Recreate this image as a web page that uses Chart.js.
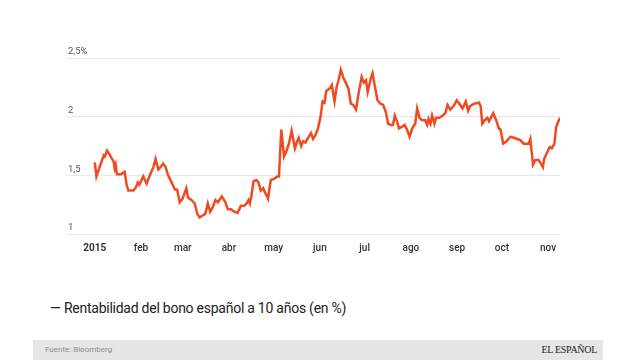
<!DOCTYPE html>
<html>
<head>
<meta charset="utf-8">
<script src="https://cdn.jsdelivr.net/npm/chart.js@4/dist/chart.umd.min.js"></script>
<style>
  body { margin: 0; width: 640px; height: 360px; background: #fff; position: relative; overflow: hidden; font-family: Roboto, sans-serif; }
  #wrap { position: absolute; left: 0; top: 0; width: 640px; height: 262px; }
  #legend { position: absolute; left: 50px; top: 300px; font-size: 14px; letter-spacing: -0.25px; color: #222; white-space: nowrap; }
  #footer { position: absolute; left: 33px; top: 340px; width: 570px; height: 20px; background: #e6e6e6; }
  #source { position: absolute; left: 12px; top: 5px; font-size: 8px; color: #8c8c8c; }
  #brand { position: absolute; right: 6px; top: 4px; font-family: "Liberation Serif", serif; font-size: 10px; color: #222; letter-spacing: -0.3px; }
</style>
</head>
<body>
<div id="wrap"><canvas id="canvas" width="640" height="262"></canvas></div>
<div id="legend">— Rentabilidad del bono español a 10 años (en %)</div>
<div id="footer"><span id="source">Fuente: Bloomberg</span><span id="brand">EL ESPAÑOL</span></div>
<script>
// days counted from 1 Jan 2015
var days = [0, 1.1, 3.8, 6.0, 6.7, 8.2, 9.8, 11.5, 12.6, 13.3, 14.0, 14.8, 17.5, 20.0, 21.5, 22.6, 25.9, 27.7, 28.8, 29.9,
    31.4, 32.5, 33.6, 34.8, 36.6, 39.3, 40.8, 42.6, 44.1, 45.9, 47.5, 49.2, 51.5, 53.7, 55.2, 57.0, 58.8, 61.4, 62.5, 64.8,
    67.0, 68.8, 70.3, 72.5, 74.1, 75.8, 77.4, 79.2, 80.9, 82.5, 85.2, 87.6, 89.2, 91.4, 93.6, 95.8, 98.0, 99.1,
    100.2, 101.8, 103.1, 104.0, 105.1, 106.5, 108.4, 109.8, 111.3, 112.9, 114.7, 116.2, 118.0, 120.2, 122.4, 123.5,
    125.1, 126.9, 128.6, 130.2, 132.0, 134.2, 135.7, 136.8, 138.4, 139.7, 141.3, 143.0, 145.0, 146.4, 147.9, 149.7,
    151.3, 152.8, 154.1, 155.2, 157.5, 159.0, 160.8, 162.3, 163.5, 165.0, 166.8, 168.3, 170.1, 171.7, 173.4, 175.2,
    176.8, 179.0, 180.5, 181.9, 183.0, 184.1, 185.2, 186.3, 187.8, 189.6, 191.6, 193.4, 195.2, 196.7, 198.5, 200.0,
    201.2, 202.7, 204.0, 205.6, 207.8, 209.4, 211.1, 212.9, 214.9, 216.2, 217.8, 219.6, 221.6, 222.9, 223.8, 225.1,
    226.2, 227.8, 228.9, 231.1, 233.3, 235.1, 236.6, 238.4, 240.6, 242.8, 245.1, 246.6, 248.8, 250.4, 251.7, 254.4,
    257.7, 258.8, 259.9, 261.5, 263.3, 264.4, 267.2, 269.2, 271.0, 272.1, 273.9, 276.1, 278.8, 281.0, 283.2, 285.4,
    287.6, 291.0, 292.1, 293.9, 295.4, 297.6, 299.2, 300.5, 301.4, 303.2, 305.0, 306.5, 308.3, 309.4, 310.9, 312.0];
var yields = [1.61, 1.49, 1.59, 1.67, 1.66, 1.71, 1.68, 1.64, 1.62, 1.56, 1.59, 1.51, 1.51, 1.53, 1.41, 1.37, 1.37, 1.40, 1.44, 1.42,
    1.46, 1.49, 1.46, 1.43, 1.49, 1.57, 1.64, 1.55, 1.57, 1.60, 1.57, 1.50, 1.44, 1.38, 1.38, 1.27, 1.30, 1.39, 1.31, 1.29,
    1.26, 1.17, 1.14, 1.16, 1.17, 1.26, 1.19, 1.23, 1.29, 1.27, 1.32, 1.27, 1.21, 1.21, 1.19, 1.18, 1.24, 1.24,
    1.24, 1.26, 1.29, 1.26, 1.33, 1.45, 1.46, 1.44, 1.37, 1.39, 1.34, 1.30, 1.46, 1.47, 1.49, 1.49,
    1.89, 1.66, 1.71, 1.77, 1.88, 1.73, 1.79, 1.82, 1.75, 1.79, 1.78, 1.82, 1.86, 1.81, 1.84, 1.90,
    1.99, 2.13, 2.12, 2.22, 2.24, 2.27, 2.13, 2.26, 2.31, 2.40, 2.33, 2.29, 2.24, 2.11, 2.10, 2.06,
    2.19, 2.34, 2.29, 2.31, 2.21, 2.27, 2.33, 2.37, 2.26, 2.14, 2.11, 2.10, 2.04, 1.94, 1.93, 1.93,
    2.01, 1.96, 1.90, 1.91, 1.93, 1.89, 1.83, 1.90, 1.94, 2.07, 1.99, 1.97, 1.97, 1.93, 1.98, 1.94,
    2.01, 1.94, 1.99, 1.99, 2.01, 2.03, 2.10, 2.06, 2.09, 2.14, 2.10, 2.07, 2.13, 2.05, 2.09, 2.11,
    2.12, 2.09, 1.94, 1.97, 1.99, 1.96, 2.03, 1.97, 1.90, 1.89, 1.77, 1.79, 1.83, 1.82, 1.81, 1.80,
    1.77, 1.77, 1.81, 1.59, 1.63, 1.63, 1.60, 1.57, 1.64, 1.69, 1.74, 1.73, 1.77, 1.91, 1.96, 1.99];
var monthDays = [0, 31, 59, 90, 120, 151, 181, 212, 243, 273, 304];
var monthLabels = ['2015', 'feb', 'mar', 'abr', 'may', 'jun', 'jul', 'ago', 'sep', 'oct', 'nov'];
var yTicks = [1, 1.5, 2, 2.5];
var yTickLabels = ['1', '1,5', '2', '2,5%'];

var points = days.map(function (d, i) { return { x: d, y: yields[i] }; });

var config = {
    type: 'line',
    data: {
        datasets: [{
            label: 'Rentabilidad del bono español a 10 años (en %)',
            data: points,
            borderColor: '#ef4b22',
            borderWidth: 2.5,
            pointRadius: 0,
            tension: 0,
            fill: false
        }]
    },
    options: {
        responsive: false,
        animation: false,
        layout: { padding: { left: 62, right: 80, top: 58, bottom: 0 } },
        plugins: { legend: { display: false }, tooltip: { enabled: false } },
        scales: {
            x: {
                type: 'linear',
                min: -19.3,
                max: 312,
                grid: { display: false, drawTicks: false },
                border: { display: false },
                afterBuildTicks: function (scale) {
                    scale.ticks = monthDays.map(function (v) { return { value: v }; });
                },
                ticks: {
                    autoSkip: false,
                    maxRotation: 0,
                    padding: 8,
                    color: '#333',
                    font: function (ctx) {
                        return { family: 'Roboto', size: 10, weight: ctx.index === 0 ? 'bold' : '500' };
                    },
                    callback: function (value) {
                        var i = monthDays.indexOf(value);
                        return i >= 0 ? monthLabels[i] : '';
                    }
                }
            },
            y: {
                min: 1,
                max: 2.5,
                grid: { color: '#e8e8e8', drawTicks: false },
                border: { display: false },
                afterBuildTicks: function (scale) {
                    scale.ticks = yTicks.map(function (v) { return { value: v }; });
                },
                ticks: {
                    mirror: true,
                    padding: 2,
                    labelOffset: -6,
                    color: '#555',
                    font: { family: 'Roboto', size: 9.5 },
                    callback: function (value) {
                        var i = yTicks.indexOf(value);
                        return i >= 0 ? yTickLabels[i] : '';
                    }
                }
            }
        }
    }
};

window.onload = function () {
    var ctx = document.getElementById('canvas').getContext('2d');
    new Chart(ctx, config);
};
</script>
</body>
</html>
